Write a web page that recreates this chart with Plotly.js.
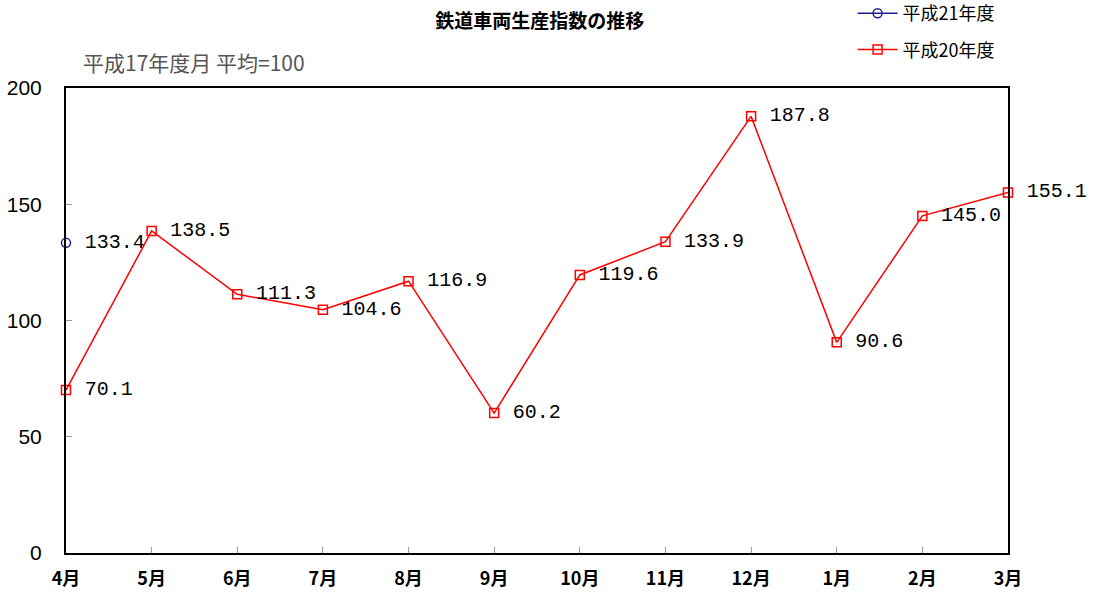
<!DOCTYPE html>
<html><head><meta charset="utf-8">
<script src="https://cdn.plot.ly/plotly-3.0.1.min.js"></script>
<style>body{margin:0;background:#fff}#c{width:1095px;height:600px}</style>
</head><body><div id="c"></div>
<script>
const months = ["4月","5月","6月","7月","8月","9月","10月","11月","12月","1月","2月","3月"];
const h20 = [70.1,138.5,111.3,104.6,116.9,60.2,119.6,133.9,187.8,90.6,145.0,155.1];
const h21Months = ["4月"];
const h21 = [133.4];
const fmt = v => "\u00a0" + v.toFixed(1);
const labelFont = {family:"Liberation Mono, DejaVu Sans Mono, monospace", size:20, color:"#000"};
const traces = [
  {x:h21Months, y:h21, name:"平成21年度", type:"scatter", mode:"lines+markers+text", legendgroup:"a",
   text:h21.map(fmt), textposition:"middle right", textfont:labelFont,
   line:{color:"#1f1f8f", width:1.5}, marker:{symbol:"circle-open", size:9, color:"#1f1f8f", line:{width:1.5}},
   cliponaxis:false},
  {x:months, y:h20, name:"平成20年度", type:"scatter", mode:"lines+markers+text", legendgroup:"b",
   text:h20.map(fmt), textposition:"middle right", textfont:labelFont,
   line:{color:"#ff0000", width:1.5}, marker:{symbol:"square-open", size:9, color:"#ff0000", line:{width:1.5}},
   cliponaxis:false}
];
const layout = {
  width:1095, height:600,
  margin:{l:66, r:87, t:88, b:47, autoexpand:false},
  paper_bgcolor:"#fff", plot_bgcolor:"#fff",
  showlegend:true,
  legend:{x:0.835, y:1.2, xanchor:"left", yanchor:"top", traceorder:"grouped",
    font:{family:"Noto Sans CJK JP", size:18, color:"#000"}, bgcolor:"rgba(0,0,0,0)", itemwidth:40, tracegroupgap:10},
  title:{text:"<b>鉄道車両生産指数の推移</b>", x:0.493, xanchor:"center", y:0.965, yanchor:"middle",
    font:{family:"Noto Sans CJK JP", size:19, color:"#000"}},
  xaxis:{type:"category", categoryorder:"array", categoryarray:months, range:[0,11],
    showline:true, linecolor:"#000", linewidth:2, mirror:true, showgrid:false, zeroline:false,
    ticks:"inside", tickcolor:"#999", ticklen:6, tickwidth:1,
    tickfont:{family:"Noto Sans CJK JP", size:18, color:"#000", weight:"bold"}, ticklabelstandoff:8},
  yaxis:{range:[0,200], tickvals:[0,50,100,150,200], ticktext:["0","50","100","150","200"],
    showline:true, linecolor:"#000", linewidth:2, mirror:true, showgrid:false, zeroline:false,
    ticks:"inside", tickcolor:"#999", ticklen:6, tickwidth:1,
    tickfont:{family:"Liberation Sans, Arial", size:21, color:"#000"}, ticklabelstandoff:18},
  annotations:[
    {text:"平成17年度月\u00a0平均=100", xref:"paper", yref:"paper", x:0.016, y:1.02, xanchor:"left", yanchor:"bottom",
     showarrow:false, font:{family:"Noto Sans CJK JP", size:21, color:"#555"}}
  ]
};
Plotly.newPlot("c", traces, layout, {displayModeBar:false, staticPlot:true});
</script></body></html>
